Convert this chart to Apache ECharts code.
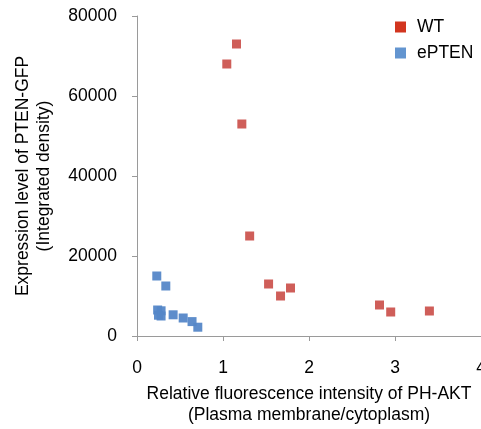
<!DOCTYPE html>
<html><head><meta charset="utf-8">
<script src="https://cdn.jsdelivr.net/npm/echarts@6/dist/echarts.min.js"></script>
<style>html,body{margin:0;padding:0;background:#fff}#c{width:481px;height:429px}</style>
</head><body><div id="c"></div>
<script>
const seriesNames = ['WT', 'ePTEN'];
const wtX = [1.157, 1.044, 1.219, 1.31, 1.53, 1.669, 1.785, 2.82, 2.95, 3.40];
const wtY = [73000, 68000, 53000, 25000, 13000, 10000, 12000, 7750, 6000, 6250];
const epX = [0.23, 0.335, 0.24, 0.28, 0.25, 0.28, 0.42, 0.537, 0.64, 0.707];
const epY = [15000, 12500, 6500, 6300, 5200, 5000, 5300, 4500, 3600, 2200];
const xTicks = [0, 1, 2, 3, 4];
const yTicks = [0, 20000, 40000, 60000, 80000];
const xTitle = 'Relative fluorescence intensity of PH-AKT\n(Plasma membrane/cytoplasm)';
const yTitle = 'Expression level of PTEN-GFP\n(Integrated density)';

const zip = (a, b) => a.map((v, i) => [v, b[i]]);
const chart = echarts.init(document.getElementById('c'), null, {renderer: 'canvas'});
const font = 'Liberation Sans, Arial, sans-serif';
const fs = 17.5;
chart.setOption({
  animation: false,
  textStyle: {fontFamily: font},
  grid: {left: 137, right: 0, top: 16, bottom: 93, containLabel: false, outerBoundsMode: 'none'},
  legend: {
    orient: 'vertical', left: 390, top: 13, itemWidth: 11, itemHeight: 11, itemGap: 8,
    icon: 'rect',
    textStyle: {fontSize: fs, color: '#000', fontFamily: font, lineHeight: 18, padding: [0, 0, 0, 6]},
    data: [
      {name: seriesNames[0], itemStyle: {color: '#d02a13'}},
      {name: seriesNames[1], itemStyle: {color: '#5b8fcd'}}
    ]
  },
  xAxis: {
    type: 'value', min: xTicks[0], max: xTicks[xTicks.length - 1], interval: 1,
    splitLine: {show: false},
    axisLine: {lineStyle: {color: '#9a9a9a', width: 1}},
    axisTick: {show: true, length: 5, lineStyle: {color: '#9a9a9a'}},
    axisLabel: {fontSize: fs, color: '#000', margin: 23, fontFamily: font, formatter: v => String(v)},
    name: xTitle, nameLocation: 'middle', nameGap: 48,
    nameTextStyle: {fontSize: fs, color: '#000', lineHeight: 21, fontFamily: font}
  },
  yAxis: {
    type: 'value', min: yTicks[0], max: yTicks[yTicks.length - 1], interval: 20000,
    splitLine: {show: false},
    axisLine: {show: true, lineStyle: {color: '#9a9a9a', width: 1}},
    axisTick: {show: true, length: 5, lineStyle: {color: '#9a9a9a'}},
    axisLabel: {fontSize: fs, color: '#000', margin: 20, fontFamily: font, formatter: v => String(v)},
    name: yTitle, nameLocation: 'middle', nameGap: 82,
    nameTextStyle: {fontSize: fs, color: '#000', lineHeight: 21, fontFamily: font}
  },
  series: [
    {name: seriesNames[0], type: 'scatter', symbol: 'rect', symbolSize: 9,
     itemStyle: {color: '#cc5550', opacity: 0.95}, data: zip(wtX, wtY)},
    {name: seriesNames[1], type: 'scatter', symbol: 'rect', symbolSize: 9,
     itemStyle: {color: '#5587c8', opacity: 0.95}, data: zip(epX, epY)}
  ]
});
</script></body></html>
